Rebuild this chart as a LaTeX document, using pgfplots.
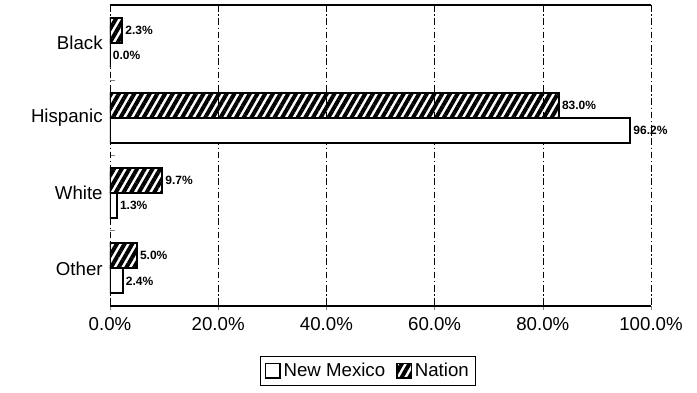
\documentclass[border=0pt]{standalone}
\usepackage{pgfplots}
\pgfplotsset{compat=1.18}
\usetikzlibrary{patterns.meta}
\usepackage{fontspec}
\setmainfont{Liberation Sans}

\begin{document}
\begin{tikzpicture}[x=1pt,y=1pt]
  \begin{axis}[
    xbar,
    scale only axis,
    width=405.75pt,
    height=225.75pt,
    y dir=reverse,
    xmin=0, xmax=100,
    ymin=-0.5, ymax=3.5,
    ytick={0,1,2,3},
    yticklabels={Black,Hispanic,White,Other},
    minor ytick={0.5,1.5,2.5},
    ytick pos=left,
    ytick align=inside,
    major y tick style={draw=none},
    minor y tick style={line width=1pt},
    minor tick length=4pt,
    xtick={0,20,...,100},
    xtick pos=bottom,
    xtick align=outside,
    major tick length=3pt,
    xticklabel={\pgfmathprintnumber[fixed,precision=1,zerofill]{\tick}\%},
    /pgf/number format/assume math mode=true,
    ticklabel style={font=\fontsize{14}{16}\selectfont},
    yticklabel style={xshift=-2pt},
    xticklabel style={yshift=-2pt},
    xmajorgrids,
    grid style={black, dash pattern=on 5pt off 2pt on 1pt off 2pt},
    separate axis lines,
    x axis line style={black, line width=1.2pt},
    y axis line style={black, dash pattern=on 5pt off 2pt on 1pt off 2pt},
    bar width=18.75pt,
    point meta=x,
    nodes near coords={\pgfmathprintnumber[fixed,precision=1,zerofill]{\pgfplotspointmeta}\%},
    nodes near coords style={font=\fontsize{9}{10}\selectfont\bfseries, inner sep=1.5pt},
    legend image code/.code={\draw[#1, line width=1.2pt] (0pt,-5.5pt) rectangle (11pt,5.5pt);},
    legend columns=2,
    legend style={at={(0.477,-0.166)}, anchor=north, draw=black,
      font=\fontsize{14}{16}\selectfont, inner sep=3pt,
      /tikz/every even column/.append style={column sep=6pt}},
  ]
  \addplot[draw=black, line width=1.5pt, fill=white, bar shift=-9.4pt] coordinates {
    (0.0,0) (96.2,1) (1.3,2) (2.4,3)
  };
  \addlegendentry{New Mexico}
  \addplot[draw=black, line width=1.5pt,
    pattern={Lines[angle=60, distance=5pt, line width=3pt]}, pattern color=black,
    bar shift=9.4pt] coordinates {
    (2.3,0) (83.0,1) (9.7,2) (5.0,3)
  };
  \addlegendentry{Nation}
  \coordinate (bl) at (rel axis cs:-0.2033,-0.289);
  \coordinate (tr) at (rel axis cs:1.085,1.0166);
  \end{axis}
  \pgfresetboundingbox
  \path (bl) rectangle (tr);
\end{tikzpicture}
\end{document}
